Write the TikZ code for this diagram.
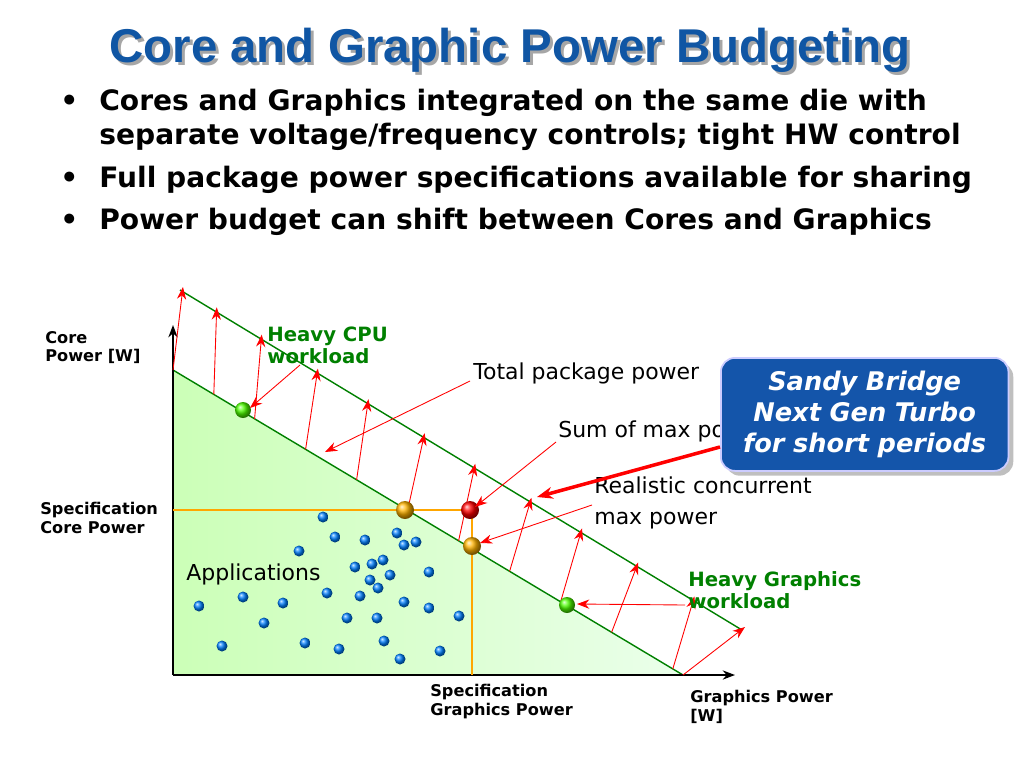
\documentclass[tikz,border=0pt]{standalone}
\usepackage{fontspec}
\setmainfont{DejaVu Sans}
\newfontfamily\titlefont{Liberation Sans}
\usetikzlibrary{arrows.meta,shadows}
\begin{document}
\begin{tikzpicture}[x=0.02cm,y=-0.02cm,
  redarr/.style={red,-{Stealth[length=7pt]},line width=0.5pt},
  gline/.style={draw=green!50!black,line width=0.8pt},
  small/.style={font=\bfseries\fontsize{9.2}{10.5}\selectfont,align=left,inner sep=0},
  titlestyle/.style={font=\titlefont\bfseries\fontsize{27}{30}\selectfont},
  lbl/.style={font=\fontsize{12.5}{15}\selectfont,align=left,inner sep=0,anchor=west}]
\useasboundingbox (0,0) rectangle (1024,768);
\fill[white] (0,0) rectangle (1024,768);
% title
\node[titlestyle,text=black!35] at (513,53) {Core and Graphic Power Budgeting};
\node (title) [titlestyle,text={rgb,255:red,16;green,86;blue,164}] at (510,50) {Core and Graphic Power Budgeting};
% bullets
\begin{scope}[every node/.style={anchor=west,inner sep=0,font=\bfseries\fontsize{16}{18}\selectfont}]
\node (b0) at (60,103) {•};
\node (b1) at (99,103) {Cores and Graphics integrated on the same die with};
\node (b1b) at (99,137) {separate voltage/frequency controls; tight HW control};
\node (b2a) at (60,180) {•};
\node (b2) at (99,180) {Full package power specifications available for sharing};
\node (b3a) at (60,222) {•};
\node (b3) at (99,222) {Power budget can shift between Cores and Graphics};
\end{scope}
% triangle
\shade[left color=green!22!white!92!yellow,right color=green!8!white] (173,370) -- (683,675) -- (173,675) -- cycle;
\draw[gline] (173,370) -- (683,675);
\draw[gline] (180,290) -- (742,630);
% axes
\coordinate (o) at (173,675);
\coordinate (ytop) at (173,325);
\coordinate (xend) at (735,675);
\draw[-{Stealth[length=7pt]},line width=1pt] (o) -- (ytop);
\draw[-{Stealth[length=7pt]},line width=1pt] (o) -- (xend);
% red arrows
\foreach \t/\s in {0/0,0.08/0.06,0.16/0.14,0.26/0.24,0.36/0.33,0.46/0.43,0.56/0.52,0.66/0.62,0.76/0.71,0.86/0.81,0.98/0.91,1/1}{
  \draw[redarr] ({173+510*\t},{370+305*\t}) -- ({180+562*\s+3},{290+340*\s-3});
}
% orange lines
\draw[orange!70!yellow,line width=1pt] (173,510) -- (470,510);
\draw[orange!70!yellow,line width=1pt] (472,510) -- (472,675);
% blue dots
\foreach \x/\y in {323/517,335/537,365/540,397/533,404/545,416/542,299/551,355/567,372/564,383/560,390/575,370/580,378/588,429/572,360/596,327/593,243/597,199/606,283/603,404/602,429/608,459/616,264/623,347/618,377/618,222/646,305/643,339/649,384/641,400/659,440/651}
  \shade[ball color=blue!50!cyan] (\x,\y) circle (5.5);
% key dots
\shade[ball color=green!60!lime] (243,410) circle (8);
\shade[ball color=orange!60!yellow] (405,510) circle (9);
\shade[ball color=red] (470,510) circle (9);
\shade[ball color=orange!60!yellow] (472,546) circle (9);
\shade[ball color=green!60!lime] (567,605) circle (8);
% labels
\node[small,anchor=north west] (cp) at (45,331) {Core\\Power [W]};
\node[small,anchor=north west] (sc) at (40,502) {Specification\\Core Power};
\node[small,anchor=north west] (sg) at (430,684) {Specification\\Graphics Power};
\node[small,anchor=north west] (gp) at (690,690) {Graphics Power\\{[W]}};
\node[small,anchor=north west,text=green!50!black,font=\bfseries\fontsize{11.2}{12.5}\selectfont] (hc) at (267,327) {Heavy CPU\\workload};
\node[small,anchor=north west,text=green!50!black,font=\bfseries\fontsize{11.2}{12.5}\selectfont] (hg) at (688,571) {Heavy Graphics\\workload};
\node[lbl] (apps) at (186,574) {Applications};
\node[lbl] (tpp) at (473,373) {Total package power};
\node[lbl] (som) at (558,431) {Sum of max power};
\node[lbl,anchor=north west,font=\fontsize{12.5}{18}\selectfont] (rcm) at (594,476) {Realistic concurrent\\max power};
% label arrows
\coordinate (a1) at (250,408);
\draw[redarr] (300,365) -- (a1);
\draw[redarr] (470,381) -- (325,452);
\draw[redarr] (556,442) -- (475,507);
\draw[redarr] (592,505) -- (480,543);
\draw[redarr] (685,605) -- (577,604);
% box
\node (sb) [rounded corners=8pt,fill={rgb,255:red,20;green,85;blue,170},draw=blue!20,line width=1pt,drop shadow,
  text width=270*0.02cm,align=center,font=\bfseries\itshape\fontsize{14.6}{17.5}\selectfont,text=white,
  minimum height=113*0.02cm,anchor=north west,inner sep=5pt] at (720,357) {Sandy Bridge\\Next Gen Turbo\\for short periods};
\draw[red,line width=2pt,-{Stealth[length=9pt]}] (sb.west |- 0,447) -- (537,497);
\end{tikzpicture}
\end{document}
